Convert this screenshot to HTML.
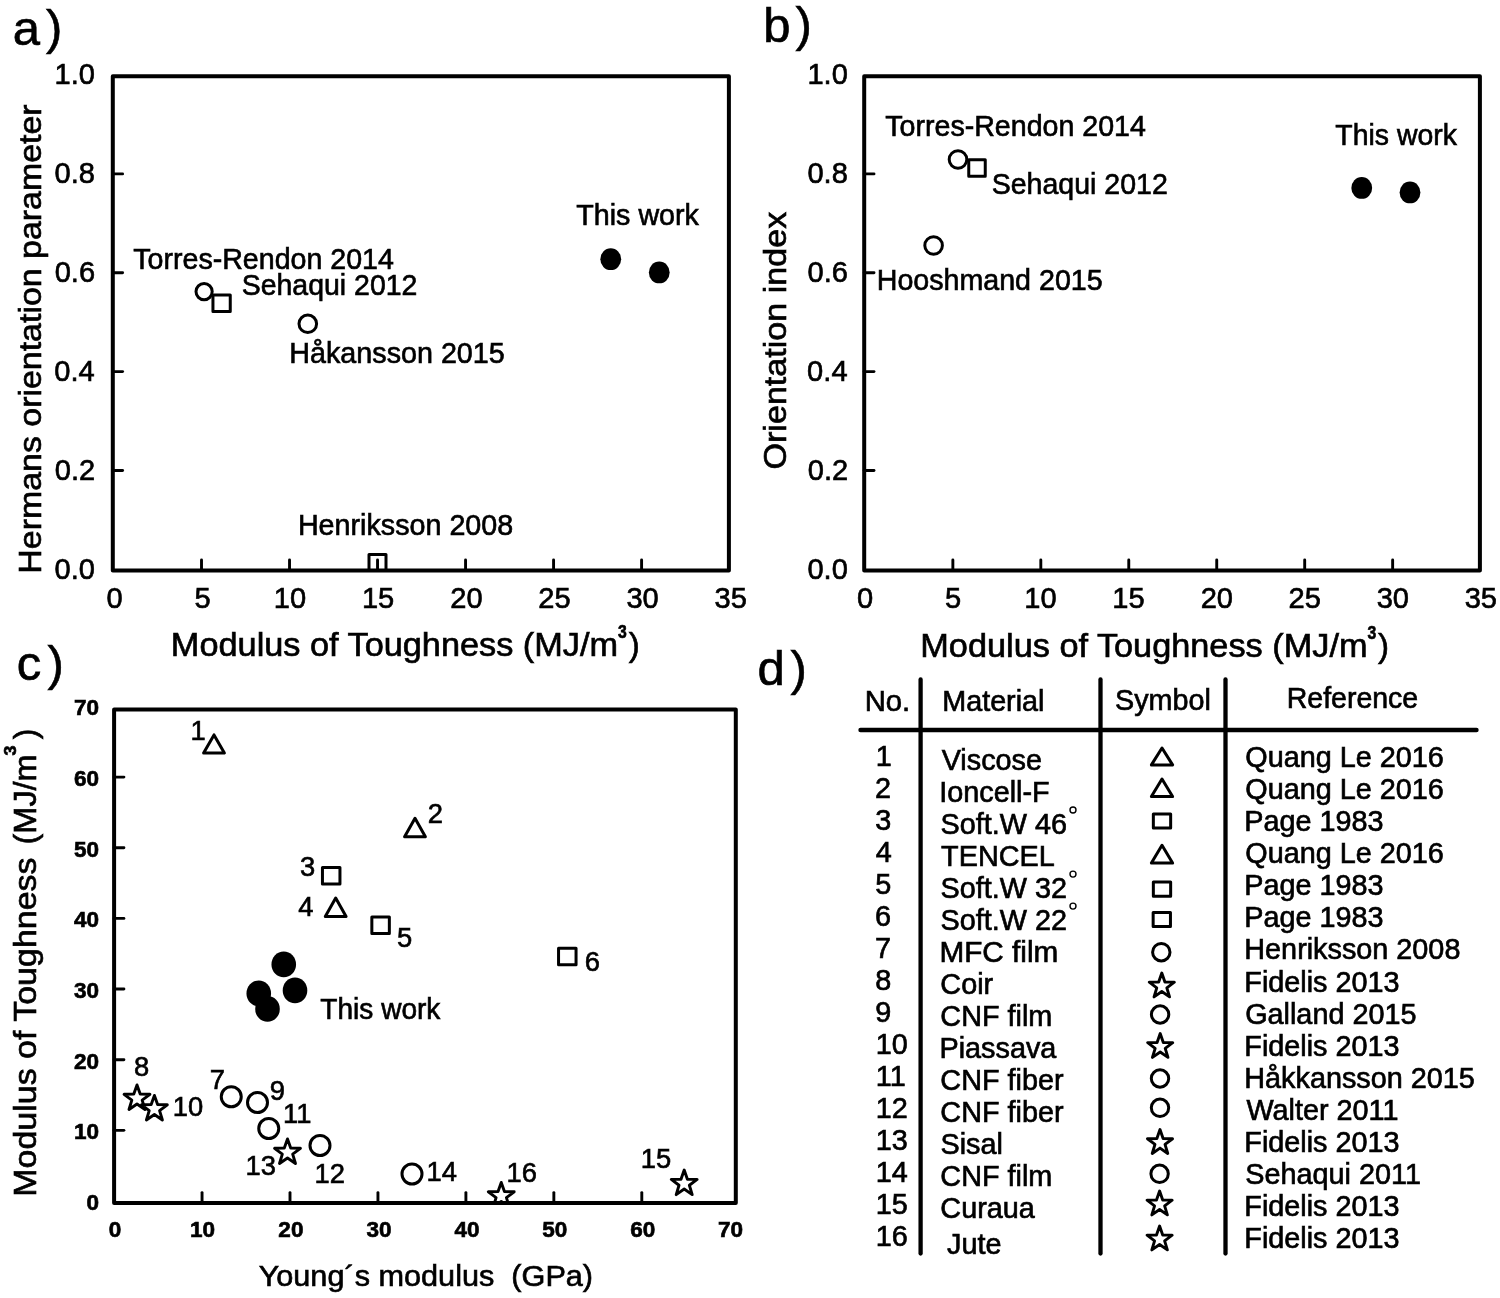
<!DOCTYPE html>
<html lang="en"><head><meta charset="utf-8"><title>Figure</title>
<style>html,body{margin:0;padding:0;background:#fff;overflow:hidden}svg{display:block;filter:blur(0.45px)}text{font-family:"Liberation Sans", Arial, Helvetica, sans-serif;fill:#000;stroke:#000;stroke-width:0.65px;white-space:pre}</style>
</head><body>
<svg width="1500" height="1298" viewBox="0 0 1500 1298">
<rect x="-5" y="-5" width="1510" height="1308" fill="#fff"/>
<text transform="translate(12.79 45.00) scale(1.0000 1)" font-size="49">a</text>
<text transform="translate(46.01 44.00) scale(1.0000 1)" font-size="49">)</text>
<text transform="translate(763.32 41.50) scale(1.0000 1)" font-size="49">b</text>
<text transform="translate(795.51 40.50) scale(1.0000 1)" font-size="49">)</text>
<text transform="translate(16.80 680.00) scale(1.0000 1)" font-size="49">c</text>
<text transform="translate(47.51 680.00) scale(1.0000 1)" font-size="49">)</text>
<text transform="translate(757.54 685.00) scale(1.0000 1)" font-size="49">d</text>
<text transform="translate(790.51 685.00) scale(1.0000 1)" font-size="49">)</text>
<g id="panel-a">
<clipPath id="clipA"><rect x="112.8" y="76.3" width="616.1" height="494.2"/></clipPath>
<g clip-path="url(#clipA)">
<rect x="369.00" y="554.50" width="17" height="17" fill="#fff" stroke="#000" stroke-width="3.0" stroke-linejoin="round"/>
</g>
<rect x="112.8" y="76.3" width="616.1" height="494.2" fill="none" stroke="#000" stroke-width="4.0" stroke-linejoin="round"/>
<text transform="translate(106.42 608.00) scale(0.9700 1)" font-size="30">0</text>
<line x1="201.51" y1="570.50" x2="201.51" y2="560.00" stroke="#000" stroke-width="2.9" stroke-linecap="round"/>
<text transform="translate(194.44 608.00) scale(0.9700 1)" font-size="30">5</text>
<line x1="289.53" y1="570.50" x2="289.53" y2="560.00" stroke="#000" stroke-width="2.9" stroke-linecap="round"/>
<text transform="translate(273.87 608.00) scale(0.9700 1)" font-size="30">10</text>
<line x1="377.54" y1="570.50" x2="377.54" y2="560.00" stroke="#000" stroke-width="2.9" stroke-linecap="round"/>
<text transform="translate(361.88 608.00) scale(0.9700 1)" font-size="30">15</text>
<line x1="465.56" y1="570.50" x2="465.56" y2="560.00" stroke="#000" stroke-width="2.9" stroke-linecap="round"/>
<text transform="translate(450.26 608.00) scale(0.9700 1)" font-size="30">20</text>
<line x1="553.57" y1="570.50" x2="553.57" y2="560.00" stroke="#000" stroke-width="2.9" stroke-linecap="round"/>
<text transform="translate(538.28 608.00) scale(0.9700 1)" font-size="30">25</text>
<line x1="641.59" y1="570.50" x2="641.59" y2="560.00" stroke="#000" stroke-width="2.9" stroke-linecap="round"/>
<text transform="translate(626.44 608.00) scale(0.9700 1)" font-size="30">30</text>
<text transform="translate(714.45 608.00) scale(0.9700 1)" font-size="30">35</text>
<text transform="translate(54.51 578.50) scale(0.9700 1)" font-size="30">0.0</text>
<line x1="112.80" y1="470.45" x2="122.60" y2="470.45" stroke="#000" stroke-width="2.9" stroke-linecap="round"/>
<text transform="translate(54.81 479.65) scale(0.9700 1)" font-size="30">0.2</text>
<line x1="112.80" y1="371.60" x2="122.60" y2="371.60" stroke="#000" stroke-width="2.9" stroke-linecap="round"/>
<text transform="translate(54.22 380.80) scale(0.9700 1)" font-size="30">0.4</text>
<line x1="112.80" y1="272.75" x2="122.60" y2="272.75" stroke="#000" stroke-width="2.9" stroke-linecap="round"/>
<text transform="translate(54.66 281.95) scale(0.9700 1)" font-size="30">0.6</text>
<line x1="112.80" y1="173.90" x2="122.60" y2="173.90" stroke="#000" stroke-width="2.9" stroke-linecap="round"/>
<text transform="translate(54.51 183.10) scale(0.9700 1)" font-size="30">0.8</text>
<text transform="translate(54.51 84.25) scale(0.9700 1)" font-size="30">1.0</text>
<text transform="translate(41.00 573.71) rotate(-90) scale(1.0599 1)" font-size="32">Hermans orientation parameter</text>
<text transform="translate(170.86 656.00) scale(1.0396 1)" font-size="33">Modulus of Toughness (MJ/m</text>
<text transform="translate(618.01 638.20) scale(0.8518 1)" font-size="18.5" font-weight="bold">3</text>
<text transform="translate(628.67 656.00) scale(1.0000 1)" font-size="33">)</text>
<circle cx="204.1" cy="291.6" r="8.1" fill="#fff" stroke="#000" stroke-width="3.0"/>
<rect x="212.95" y="294.95" width="17.3" height="16.5" fill="#fff" stroke="#000" stroke-width="3.0" stroke-linejoin="round"/>
<circle cx="307.8" cy="323.8" r="8.8" fill="#fff" stroke="#000" stroke-width="3.0"/>
<ellipse cx="610.75" cy="259.15" rx="10.4" ry="10.95" fill="#000"/>
<ellipse cx="659.25" cy="272.4" rx="10.4" ry="10.95" fill="#000"/>
<text transform="translate(576.28 225.10) scale(0.9557 1)" font-size="30">This work</text>
<text transform="translate(133.29 269.40) scale(0.9529 1)" font-size="30">Torres-Rendon 2014</text>
<text transform="translate(241.72 295.10) scale(0.9492 1)" font-size="30">Sehaqui 2012</text>
<text transform="translate(289.30 363.00) scale(0.9569 1)" font-size="30">Håkansson 2015</text>
<text transform="translate(297.90 534.60) scale(0.9731 1)" font-size="29.5">Henriksson 2008</text>
</g>
<g id="panel-b">
<rect x="864.2" y="76.3" width="615.7" height="494.2" fill="none" stroke="#000" stroke-width="4.0" stroke-linejoin="round"/>
<text transform="translate(857.02 608.00) scale(0.9700 1)" font-size="30">0</text>
<line x1="952.86" y1="570.50" x2="952.86" y2="560.00" stroke="#000" stroke-width="2.9" stroke-linecap="round"/>
<text transform="translate(944.98 608.00) scale(0.9700 1)" font-size="30">5</text>
<line x1="1040.81" y1="570.50" x2="1040.81" y2="560.00" stroke="#000" stroke-width="2.9" stroke-linecap="round"/>
<text transform="translate(1024.35 608.00) scale(0.9700 1)" font-size="30">10</text>
<line x1="1128.77" y1="570.50" x2="1128.77" y2="560.00" stroke="#000" stroke-width="2.9" stroke-linecap="round"/>
<text transform="translate(1112.31 608.00) scale(0.9700 1)" font-size="30">15</text>
<line x1="1216.73" y1="570.50" x2="1216.73" y2="560.00" stroke="#000" stroke-width="2.9" stroke-linecap="round"/>
<text transform="translate(1200.63 608.00) scale(0.9700 1)" font-size="30">20</text>
<line x1="1304.69" y1="570.50" x2="1304.69" y2="560.00" stroke="#000" stroke-width="2.9" stroke-linecap="round"/>
<text transform="translate(1288.59 608.00) scale(0.9700 1)" font-size="30">25</text>
<line x1="1392.64" y1="570.50" x2="1392.64" y2="560.00" stroke="#000" stroke-width="2.9" stroke-linecap="round"/>
<text transform="translate(1376.69 608.00) scale(0.9700 1)" font-size="30">30</text>
<text transform="translate(1464.65 608.00) scale(0.9700 1)" font-size="30">35</text>
<text transform="translate(807.42 578.50) scale(0.9700 1)" font-size="30">0.0</text>
<line x1="864.20" y1="470.45" x2="874.00" y2="470.45" stroke="#000" stroke-width="2.9" stroke-linecap="round"/>
<text transform="translate(807.71 479.65) scale(0.9700 1)" font-size="30">0.2</text>
<line x1="864.20" y1="371.60" x2="874.00" y2="371.60" stroke="#000" stroke-width="2.9" stroke-linecap="round"/>
<text transform="translate(807.12 380.80) scale(0.9700 1)" font-size="30">0.4</text>
<line x1="864.20" y1="272.75" x2="874.00" y2="272.75" stroke="#000" stroke-width="2.9" stroke-linecap="round"/>
<text transform="translate(807.56 281.95) scale(0.9700 1)" font-size="30">0.6</text>
<line x1="864.20" y1="173.90" x2="874.00" y2="173.90" stroke="#000" stroke-width="2.9" stroke-linecap="round"/>
<text transform="translate(807.42 183.10) scale(0.9700 1)" font-size="30">0.8</text>
<text transform="translate(807.42 84.25) scale(0.9700 1)" font-size="30">1.0</text>
<text transform="translate(785.50 469.53) rotate(-90) scale(1.0660 1)" font-size="32">Orientation index</text>
<text transform="translate(920.26 656.70) scale(1.0396 1)" font-size="33">Modulus of Toughness (MJ/m</text>
<text transform="translate(1367.41 638.90) scale(0.8518 1)" font-size="18.5" font-weight="bold">3</text>
<text transform="translate(1378.07 656.70) scale(1.0000 1)" font-size="33">)</text>
<circle cx="958" cy="159.5" r="8.8" fill="#fff" stroke="#000" stroke-width="3.0"/>
<rect x="968.75" y="159.75" width="16.5" height="16.5" fill="#fff" stroke="#000" stroke-width="3.0" stroke-linejoin="round"/>
<circle cx="933.6" cy="245.5" r="8.8" fill="#fff" stroke="#000" stroke-width="3.0"/>
<ellipse cx="1361.75" cy="187.9" rx="10.4" ry="10.95" fill="#000"/>
<ellipse cx="1410" cy="192.4" rx="10.4" ry="10.95" fill="#000"/>
<text transform="translate(1335.29 144.75) scale(0.9479 1)" font-size="30">This work</text>
<text transform="translate(885.29 136.00) scale(0.9529 1)" font-size="30">Torres-Rendon 2014</text>
<text transform="translate(991.72 194.00) scale(0.9514 1)" font-size="30">Sehaqui 2012</text>
<text transform="translate(876.71 290.40) scale(0.9543 1)" font-size="30">Hooshmand 2015</text>
</g>
<g id="panel-c">
<clipPath id="clipC"><rect x="114.1" y="709.4" width="621.6999999999999" height="493.69999999999993"/></clipPath>
<g clip-path="url(#clipC)">
<path d="M501.25 1182.40 L504.45 1191.60 L514.18 1191.80 L506.42 1197.68 L509.24 1207.00 L501.25 1201.44 L493.26 1207.00 L496.08 1197.68 L488.32 1191.80 L498.05 1191.60 Z" fill="#fff" stroke="#000" stroke-width="2.9" stroke-linejoin="round"/>
</g>
<rect x="114.1" y="709.4" width="621.6999999999999" height="493.69999999999993" fill="none" stroke="#000" stroke-width="4.0" stroke-linejoin="round"/>
<text transform="translate(108.66 1236.80) scale(1.0000 1)" font-size="22.5" font-weight="bold">0</text>
<line x1="202.05" y1="1203.10" x2="202.05" y2="1192.60" stroke="#000" stroke-width="2.9" stroke-linecap="round"/>
<text transform="translate(190.08 1236.80) scale(1.0000 1)" font-size="22.5" font-weight="bold">10</text>
<line x1="290.00" y1="1203.10" x2="290.00" y2="1192.60" stroke="#000" stroke-width="2.9" stroke-linecap="round"/>
<text transform="translate(278.37 1236.80) scale(1.0000 1)" font-size="22.5" font-weight="bold">20</text>
<line x1="377.95" y1="1203.10" x2="377.95" y2="1192.60" stroke="#000" stroke-width="2.9" stroke-linecap="round"/>
<text transform="translate(366.43 1236.80) scale(1.0000 1)" font-size="22.5" font-weight="bold">30</text>
<line x1="465.90" y1="1203.10" x2="465.90" y2="1192.60" stroke="#000" stroke-width="2.9" stroke-linecap="round"/>
<text transform="translate(454.49 1236.80) scale(1.0000 1)" font-size="22.5" font-weight="bold">40</text>
<line x1="553.85" y1="1203.10" x2="553.85" y2="1192.60" stroke="#000" stroke-width="2.9" stroke-linecap="round"/>
<text transform="translate(542.27 1236.80) scale(1.0000 1)" font-size="22.5" font-weight="bold">50</text>
<line x1="641.80" y1="1203.10" x2="641.80" y2="1192.60" stroke="#000" stroke-width="2.9" stroke-linecap="round"/>
<text transform="translate(630.17 1236.80) scale(1.0000 1)" font-size="22.5" font-weight="bold">60</text>
<text transform="translate(718.01 1236.80) scale(1.0000 1)" font-size="22.5" font-weight="bold">70</text>
<text transform="translate(86.41 1209.90) scale(1.0000 1)" font-size="22.5" font-weight="bold">0</text>
<line x1="114.10" y1="1130.35" x2="123.90" y2="1130.35" stroke="#000" stroke-width="2.9" stroke-linecap="round"/>
<text transform="translate(73.92 1139.25) scale(1.0000 1)" font-size="22.5" font-weight="bold">10</text>
<line x1="114.10" y1="1059.70" x2="123.90" y2="1059.70" stroke="#000" stroke-width="2.9" stroke-linecap="round"/>
<text transform="translate(73.93 1068.60) scale(1.0000 1)" font-size="22.5" font-weight="bold">20</text>
<line x1="114.10" y1="989.05" x2="123.90" y2="989.05" stroke="#000" stroke-width="2.9" stroke-linecap="round"/>
<text transform="translate(73.92 997.95) scale(1.0000 1)" font-size="22.5" font-weight="bold">30</text>
<line x1="114.10" y1="918.40" x2="123.90" y2="918.40" stroke="#000" stroke-width="2.9" stroke-linecap="round"/>
<text transform="translate(73.92 927.30) scale(1.0000 1)" font-size="22.5" font-weight="bold">40</text>
<line x1="114.10" y1="847.75" x2="123.90" y2="847.75" stroke="#000" stroke-width="2.9" stroke-linecap="round"/>
<text transform="translate(73.92 856.65) scale(1.0000 1)" font-size="22.5" font-weight="bold">50</text>
<line x1="114.10" y1="777.10" x2="123.90" y2="777.10" stroke="#000" stroke-width="2.9" stroke-linecap="round"/>
<text transform="translate(73.93 786.00) scale(1.0000 1)" font-size="22.5" font-weight="bold">60</text>
<text transform="translate(73.92 715.35) scale(1.0000 1)" font-size="22.5" font-weight="bold">70</text>
<text transform="translate(36.00 1196.72) rotate(-90) scale(1.0786 1)" font-size="31.5">Modulus of Toughness</text>
<text transform="translate(36.00 844.45) rotate(-90) scale(1.0302 1)" font-size="31.5">(MJ/m</text>
<text transform="translate(15.5 755.5) rotate(-90) scale(1.05 1)" font-size="17" font-weight="bold">3</text>
<text transform="translate(36.0 739.2) rotate(-90)" font-size="31.5">)</text>
<text transform="translate(258.63 1285.60) scale(1.0117 1)" font-size="30.3">Young´s modulus  (GPa)</text>
<path d="M214 734.9 L224.4 752.9 L203.6 752.9 Z" fill="#fff" stroke="#000" stroke-width="3.0" stroke-linejoin="round"/>
<text transform="translate(190.45 740.00) scale(0.9600 1)" font-size="28.5">1</text>
<path d="M415 818.2 L425.4 836.7 L404.6 836.7 Z" fill="#fff" stroke="#000" stroke-width="3.0" stroke-linejoin="round"/>
<text transform="translate(427.63 822.50) scale(0.9600 1)" font-size="28.5">2</text>
<rect x="322.45" y="867.55" width="17.5" height="16.5" fill="#fff" stroke="#000" stroke-width="3.0" stroke-linejoin="round"/>
<text transform="translate(299.91 876.00) scale(0.9600 1)" font-size="28.5">3</text>
<path d="M335.7 898.0 L346.09999999999997 916.4 L325.3 916.4 Z" fill="#fff" stroke="#000" stroke-width="3.0" stroke-linejoin="round"/>
<text transform="translate(298.32 915.50) scale(0.9600 1)" font-size="28.5">4</text>
<rect x="371.85" y="916.95" width="17.5" height="16.5" fill="#fff" stroke="#000" stroke-width="3.0" stroke-linejoin="round"/>
<text transform="translate(396.91 947.00) scale(0.9600 1)" font-size="28.5">5</text>
<rect x="558.55" y="948.25" width="17.5" height="16.5" fill="#fff" stroke="#000" stroke-width="3.0" stroke-linejoin="round"/>
<text transform="translate(584.63 971.00) scale(0.9600 1)" font-size="28.5">6</text>
<ellipse cx="283.75" cy="964.4" rx="12.3" ry="12.85" fill="#000"/>
<ellipse cx="258.75" cy="993.4" rx="12.3" ry="12.85" fill="#000"/>
<ellipse cx="295" cy="990.4" rx="12.3" ry="12.85" fill="#000"/>
<ellipse cx="267.5" cy="1008.9" rx="12.3" ry="12.85" fill="#000"/>
<text transform="translate(320.30 1019.00) scale(0.9684 1)" font-size="29">This work</text>
<path d="M137.00 1084.90 L140.20 1094.10 L149.93 1094.30 L142.17 1100.18 L144.99 1109.50 L137.00 1103.94 L129.01 1109.50 L131.83 1100.18 L124.07 1094.30 L133.80 1094.10 Z" fill="#fff" stroke="#000" stroke-width="2.9" stroke-linejoin="round"/>
<text transform="translate(133.97 1075.50) scale(0.9600 1)" font-size="28.5">8</text>
<path d="M154.40 1095.40 L157.60 1104.60 L167.33 1104.80 L159.57 1110.68 L162.39 1120.00 L154.40 1114.44 L146.41 1120.00 L149.23 1110.68 L141.47 1104.80 L151.20 1104.60 Z" fill="#fff" stroke="#000" stroke-width="2.9" stroke-linejoin="round"/>
<text transform="translate(172.75 1115.50) scale(0.9600 1)" font-size="28.5">10</text>
<circle cx="231.25" cy="1096.75" r="10" fill="#fff" stroke="#000" stroke-width="3.0"/>
<text transform="translate(209.63 1089.00) scale(0.9600 1)" font-size="28.5">7</text>
<circle cx="257.5" cy="1102.5" r="10" fill="#fff" stroke="#000" stroke-width="3.0"/>
<text transform="translate(269.77 1100.00) scale(0.9600 1)" font-size="28.5">9</text>
<circle cx="268.75" cy="1128.5" r="10" fill="#fff" stroke="#000" stroke-width="3.0"/>
<text transform="translate(282.95 1123.00) scale(0.9600 1)" font-size="28.5">11</text>
<path d="M287.50 1138.90 L290.70 1148.10 L300.43 1148.30 L292.67 1154.18 L295.49 1163.50 L287.50 1157.94 L279.51 1163.50 L282.33 1154.18 L274.57 1148.30 L284.30 1148.10 Z" fill="#fff" stroke="#000" stroke-width="2.9" stroke-linejoin="round"/>
<text transform="translate(245.45 1175.00) scale(0.9600 1)" font-size="28.5">13</text>
<circle cx="320" cy="1145.5" r="10" fill="#fff" stroke="#000" stroke-width="3.0"/>
<text transform="translate(314.45 1183.00) scale(0.9600 1)" font-size="28.5">12</text>
<circle cx="412" cy="1174" r="10" fill="#fff" stroke="#000" stroke-width="3.0"/>
<text transform="translate(426.45 1181.20) scale(0.9600 1)" font-size="28.5">14</text>
<text transform="translate(506.45 1181.50) scale(0.9600 1)" font-size="28.5">16</text>
<path d="M684.20 1170.00 L687.40 1179.20 L697.13 1179.40 L689.37 1185.28 L692.19 1194.60 L684.20 1189.04 L676.21 1194.60 L679.03 1185.28 L671.27 1179.40 L681.00 1179.20 Z" fill="#fff" stroke="#000" stroke-width="2.9" stroke-linejoin="round"/>
<text transform="translate(640.72 1167.50) scale(0.9600 1)" font-size="28.5">15</text>
</g>
<g id="panel-d">
<line x1="920.60" y1="679.50" x2="920.60" y2="1253.50" stroke="#000" stroke-width="4.3" stroke-linecap="round"/>
<line x1="1100.50" y1="679.50" x2="1100.50" y2="1253.50" stroke="#000" stroke-width="4.3" stroke-linecap="round"/>
<line x1="1225.50" y1="679.50" x2="1225.50" y2="1253.50" stroke="#000" stroke-width="4.3" stroke-linecap="round"/>
<line x1="860.50" y1="730.00" x2="1476.50" y2="730.00" stroke="#000" stroke-width="4.4" stroke-linecap="round"/>
<text transform="translate(864.66 711.00) scale(1.0153 1)" font-size="28.8">No.</text>
<text transform="translate(942.20 710.60) scale(0.9989 1)" font-size="28.8">Material</text>
<text transform="translate(1115.01 709.60) scale(0.9975 1)" font-size="28.8">Symbol</text>
<text transform="translate(1286.72 707.60) scale(0.9899 1)" font-size="28.8">Reference</text>
<text transform="translate(875.84 766.00) scale(1.0000 1)" font-size="28.8">1</text>
<text transform="translate(941.66 769.60) scale(1.0000 1)" font-size="28.8">Viscose</text>
<text transform="translate(1245.30 767.00) scale(1.0000 1)" font-size="28.8">Quang Le 2016</text>
<path d="M1162 748.0 L1172.6 764.9 L1151.4 764.9 Z" fill="#fff" stroke="#000" stroke-width="3.0" stroke-linejoin="round"/>
<text transform="translate(875.06 798.03) scale(1.0000 1)" font-size="28.8">2</text>
<text transform="translate(939.21 801.62) scale(1.0000 1)" font-size="28.8">Ioncell-F</text>
<text transform="translate(1245.30 799.08) scale(1.0000 1)" font-size="28.8">Quang Le 2016</text>
<path d="M1162 779.0 L1172.6 796.6 L1151.4 796.6 Z" fill="#fff" stroke="#000" stroke-width="3.0" stroke-linejoin="round"/>
<text transform="translate(875.35 830.06) scale(1.0000 1)" font-size="28.8">3</text>
<text transform="translate(940.50 833.64) scale(1.0000 1)" font-size="28.8">Soft.W 46</text>
<circle cx="1073" cy="810.0" r="3" fill="none" stroke="#000" stroke-width="1.4"/>
<text transform="translate(1244.30 831.16) scale(1.0000 1)" font-size="28.8">Page 1983</text>
<rect x="1153.35" y="813.90" width="17.3" height="14.2" fill="#fff" stroke="#000" stroke-width="3.0" stroke-linejoin="round"/>
<text transform="translate(875.78 862.09) scale(1.0000 1)" font-size="28.8">4</text>
<text transform="translate(941.08 865.66) scale(1.0000 1)" font-size="28.8">TENCEL</text>
<text transform="translate(1245.30 863.24) scale(1.0000 1)" font-size="28.8">Quang Le 2016</text>
<path d="M1162 845.3 L1172.6 863.1 L1151.4 863.1 Z" fill="#fff" stroke="#000" stroke-width="3.0" stroke-linejoin="round"/>
<text transform="translate(875.35 894.12) scale(1.0000 1)" font-size="28.8">5</text>
<text transform="translate(940.50 897.68) scale(1.0000 1)" font-size="28.8">Soft.W 32</text>
<circle cx="1073" cy="874.1" r="3" fill="none" stroke="#000" stroke-width="1.4"/>
<text transform="translate(1244.30 895.32) scale(1.0000 1)" font-size="28.8">Page 1983</text>
<rect x="1153.35" y="882.10" width="17.3" height="14.2" fill="#fff" stroke="#000" stroke-width="3.0" stroke-linejoin="round"/>
<text transform="translate(875.06 926.15) scale(1.0000 1)" font-size="28.8">6</text>
<text transform="translate(940.50 929.70) scale(1.0000 1)" font-size="28.8">Soft.W 22</text>
<circle cx="1073" cy="906.1" r="3" fill="none" stroke="#000" stroke-width="1.4"/>
<text transform="translate(1244.30 927.40) scale(1.0000 1)" font-size="28.8">Page 1983</text>
<rect x="1153.15" y="912.40" width="17.3" height="14.2" fill="#fff" stroke="#000" stroke-width="3.0" stroke-linejoin="round"/>
<text transform="translate(875.06 958.18) scale(1.0000 1)" font-size="28.8">7</text>
<text transform="translate(939.42 961.72) scale(1.0326 1)" font-size="28.8">MFC film</text>
<text transform="translate(1244.30 959.48) scale(1.0000 1)" font-size="28.8">Henriksson 2008</text>
<circle cx="1161.3" cy="952.2" r="8.7" fill="#fff" stroke="#000" stroke-width="3.0"/>
<text transform="translate(875.20 990.21) scale(1.0000 1)" font-size="28.8">8</text>
<text transform="translate(940.36 993.74) scale(1.0000 1)" font-size="28.8">Coir</text>
<text transform="translate(1244.30 991.56) scale(1.0000 1)" font-size="28.8">Fidelis 2013</text>
<path d="M1161.80 973.00 L1164.90 981.93 L1174.35 982.12 L1166.82 987.83 L1169.56 996.88 L1161.80 991.48 L1154.04 996.88 L1156.78 987.83 L1149.25 982.12 L1158.70 981.93 Z" fill="#fff" stroke="#000" stroke-width="2.9" stroke-linejoin="round"/>
<text transform="translate(875.20 1022.24) scale(1.0000 1)" font-size="28.8">9</text>
<text transform="translate(940.36 1025.76) scale(1.0000 1)" font-size="28.8">CNF film</text>
<text transform="translate(1245.16 1023.64) scale(1.0000 1)" font-size="28.8">Galland 2015</text>
<circle cx="1160.1" cy="1014.5" r="8.7" fill="#fff" stroke="#000" stroke-width="3.0"/>
<text transform="translate(875.84 1054.27) scale(1.0000 1)" font-size="28.8">10</text>
<text transform="translate(939.50 1057.78) scale(1.0000 1)" font-size="28.8">Piassava</text>
<text transform="translate(1244.30 1055.72) scale(1.0000 1)" font-size="28.8">Fidelis 2013</text>
<path d="M1160.20 1033.50 L1163.30 1042.43 L1172.75 1042.62 L1165.22 1048.33 L1167.96 1057.38 L1160.20 1051.98 L1152.44 1057.38 L1155.18 1048.33 L1147.65 1042.62 L1157.10 1042.43 Z" fill="#fff" stroke="#000" stroke-width="2.9" stroke-linejoin="round"/>
<text transform="translate(875.84 1086.30) scale(1.0000 1)" font-size="28.8">11</text>
<text transform="translate(940.36 1089.80) scale(1.0000 1)" font-size="28.8">CNF fiber</text>
<text transform="translate(1244.30 1087.80) scale(1.0000 1)" font-size="28.8">Håkkansson 2015</text>
<circle cx="1160" cy="1078.5" r="8.7" fill="#fff" stroke="#000" stroke-width="3.0"/>
<text transform="translate(875.84 1118.33) scale(1.0000 1)" font-size="28.8">12</text>
<text transform="translate(940.36 1121.82) scale(1.0000 1)" font-size="28.8">CNF fiber</text>
<text transform="translate(1246.46 1119.88) scale(1.0000 1)" font-size="28.8">Walter 2011</text>
<circle cx="1160" cy="1107.8" r="8.7" fill="#fff" stroke="#000" stroke-width="3.0"/>
<text transform="translate(875.84 1150.36) scale(1.0000 1)" font-size="28.8">13</text>
<text transform="translate(940.50 1153.84) scale(1.0000 1)" font-size="28.8">Sisal</text>
<text transform="translate(1244.30 1151.96) scale(1.0000 1)" font-size="28.8">Fidelis 2013</text>
<path d="M1160.00 1129.60 L1163.10 1138.53 L1172.55 1138.72 L1165.02 1144.43 L1167.76 1153.48 L1160.00 1148.08 L1152.24 1153.48 L1154.98 1144.43 L1147.45 1138.72 L1156.90 1138.53 Z" fill="#fff" stroke="#000" stroke-width="2.9" stroke-linejoin="round"/>
<text transform="translate(875.84 1182.39) scale(1.0000 1)" font-size="28.8">14</text>
<text transform="translate(940.36 1185.86) scale(1.0000 1)" font-size="28.8">CNF film</text>
<text transform="translate(1245.30 1184.04) scale(1.0000 1)" font-size="28.8">Sehaqui 2011</text>
<circle cx="1159.6" cy="1173.8" r="8.7" fill="#fff" stroke="#000" stroke-width="3.0"/>
<text transform="translate(875.84 1214.42) scale(1.0000 1)" font-size="28.8">15</text>
<text transform="translate(940.36 1217.88) scale(1.0000 1)" font-size="28.8">Curaua</text>
<text transform="translate(1244.30 1216.12) scale(1.0000 1)" font-size="28.8">Fidelis 2013</text>
<path d="M1159.60 1191.00 L1162.70 1199.93 L1172.15 1200.12 L1164.62 1205.83 L1167.36 1214.88 L1159.60 1209.48 L1151.84 1214.88 L1154.58 1205.83 L1147.05 1200.12 L1156.50 1199.93 Z" fill="#fff" stroke="#000" stroke-width="2.9" stroke-linejoin="round"/>
<text transform="translate(875.84 1246.45) scale(1.0000 1)" font-size="28.8">16</text>
<text transform="translate(947.07 1253.50) scale(1.0000 1)" font-size="28.8">Jute</text>
<text transform="translate(1244.30 1248.20) scale(1.0000 1)" font-size="28.8">Fidelis 2013</text>
<path d="M1159.60 1226.00 L1162.70 1234.93 L1172.15 1235.12 L1164.62 1240.83 L1167.36 1249.88 L1159.60 1244.48 L1151.84 1249.88 L1154.58 1240.83 L1147.05 1235.12 L1156.50 1234.93 Z" fill="#fff" stroke="#000" stroke-width="2.9" stroke-linejoin="round"/>
</g>
</svg></body></html>
